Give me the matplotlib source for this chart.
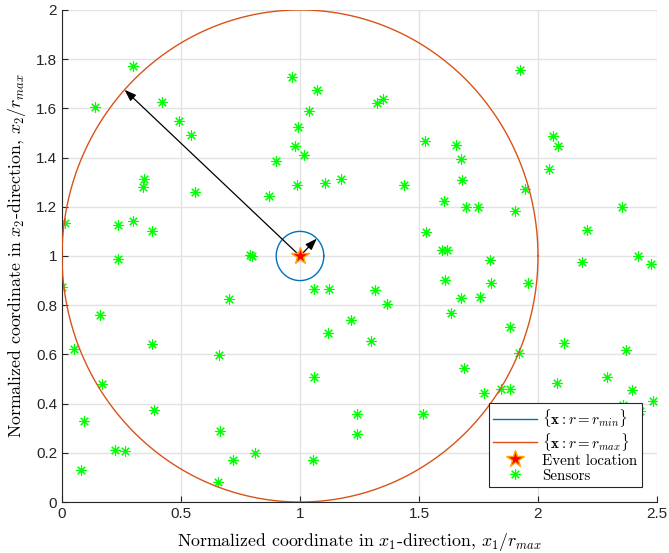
import numpy as np
import matplotlib
matplotlib.use('Agg')
import matplotlib.pyplot as plt

plt.rcParams['mathtext.fontset'] = 'cm'
plt.rcParams['font.family'] = ['Liberation Sans', 'DejaVu Sans']

# event location and the two range circles (normalized by r_max)
event = (1.0, 1.0)
r_min = 0.1
r_max = 1.0

# sensor positions, x1/r_max and x2/r_max
sensor_x = [0.30, 0.139, 0.419, 0.492, 0.542, 0.965, 1.073, 1.039, 0.993, 0.978,
            1.018, 0.898, 0.986, 1.105, 0.871, 0.560, 0.345, 0.342, 0.014, 0.235,
            0.298, 0.377, 0.235, 0.790, 0.800,
            1.926, 1.350, 1.325, 1.527, 1.654, 1.676, 1.681, 2.062, 2.084, 2.048,
            1.174, 1.437, 1.947, 1.607, 1.696, 1.749, 1.905, 2.354, 1.531, 2.206,
            1.595, 1.616, 1.800, 2.186, 2.419, 2.473,
            0.0, 0.161, 0.049, 0.380, 0.170, 0.091, 0.385, 0.081, 0.223, 0.266,
            0.702, 0.660, 0.664, 0.720, 0.812, 0.657, 1.057, 1.122, 1.119, 1.059,
            1.056,
            1.314, 1.366, 1.213, 1.297, 1.238, 1.238, 1.518, 1.611, 1.804, 1.959,
            1.676, 1.758, 1.634, 1.884, 1.920, 1.688, 1.772, 1.845, 1.884, 2.109,
            2.370, 2.078, 2.290, 2.394, 2.482, 2.358, 2.430]
sensor_y = [1.772, 1.604, 1.625, 1.548, 1.490, 1.728, 1.675, 1.588, 1.523, 1.449,
            1.411, 1.386, 1.287, 1.297, 1.245, 1.259, 1.312, 1.279, 1.135, 1.126,
            1.143, 1.103, 0.988, 1.003, 1.000,
            1.756, 1.637, 1.621, 1.469, 1.453, 1.394, 1.308, 1.489, 1.449, 1.352,
            1.312, 1.287, 1.272, 1.222, 1.198, 1.201, 1.182, 1.201, 1.099, 1.107,
            1.024, 1.024, 0.984, 0.974, 1.000, 0.966,
            0.873, 0.761, 0.622, 0.642, 0.478, 0.329, 0.375, 0.129, 0.210, 0.207,
            0.826, 0.598, 0.289, 0.170, 0.199, 0.083, 0.867, 0.864, 0.688, 0.508,
            0.170,
            0.860, 0.803, 0.741, 0.656, 0.358, 0.276, 0.358, 0.901, 0.892, 0.889,
            0.828, 0.833, 0.767, 0.713, 0.606, 0.543, 0.444, 0.458, 0.458, 0.646,
            0.618, 0.484, 0.507, 0.454, 0.412, 0.394, 0.370]

fig = plt.figure(figsize=(6.69, 5.53), dpi=100)
ax = fig.add_axes([0.0927, 0.0922, 0.8893, 0.8898])

t = np.linspace(0, 2*np.pi, 500)
ax.plot(event[0] + r_min*np.cos(t), event[1] + r_min*np.sin(t), color='#0072BD',
        lw=1.0, label=r'$\{\mathbf{x}: r = r_{min}\}$', zorder=3)
ax.plot(event[0] + r_max*np.cos(t), event[1] + r_max*np.sin(t), color='#D95319',
        lw=1.0, label=r'$\{\mathbf{x}: r = r_{max}\}$', zorder=3)

# radius arrows
for r, ang in [(r_max, 137.5), (r_min, 45.0)]:
    a = np.deg2rad(ang)
    ax.annotate('', xy=(event[0] + r*np.cos(a), event[1] + r*np.sin(a)), xytext=event,
                arrowprops=dict(arrowstyle='-|>,head_length=0.7,head_width=0.25',
                                color='k', lw=0.9, shrinkA=0, shrinkB=0), zorder=4)

ax.plot(event[0], event[1], ls='none', marker='*', ms=13, mfc='red', mec='orange',
        mew=1.0, label='Event location', zorder=5)
ax.plot(sensor_x, sensor_y, ls='none', marker=(8, 2, 0), ms=7.5, color='#00FF00',
        mew=0.8, label='Sensors', zorder=2)

ax.set_xlim(0, 2.5)
ax.set_ylim(0, 2)
ax.set_xticks([0, 0.5, 1, 1.5, 2, 2.5])
ax.set_xticklabels(['0', '0.5', '1', '1.5', '2', '2.5'])
ax.set_yticks(np.arange(0, 2.01, 0.2))
ax.set_yticklabels(['0', '0.2', '0.4', '0.6', '0.8', '1', '1.2', '1.4', '1.6', '1.8', '2'])
ax.tick_params(direction='in', labelsize=11, length=4, width=0.8, colors='#262626')
ax.grid(True, color='#e3e3e3', lw=1.0, zorder=0)
ax.set_axisbelow(True)
for s in ['top', 'right']:
    ax.spines[s].set_visible(False)
for s in ['left', 'bottom']:
    ax.spines[s].set_color('#262626')
    ax.spines[s].set_linewidth(0.8)

ax.set_xlabel(r'Normalized coordinate in $x_1$-direction, $x_1/r_{max}$',
              fontsize=12.8, family='cmr10', labelpad=7)
ax.set_ylabel(r'Normalized coordinate in $x_2$-direction, $x_2/r_{max}$',
              fontsize=12.8, family='cmr10', labelpad=6)

leg = ax.legend(loc='lower right', fancybox=False, edgecolor='#262626', framealpha=1,
                handlelength=2.9, handletextpad=0.35, labelspacing=0.08,
                borderaxespad=1.0, borderpad=0.3,
                prop={'family': 'cmr10', 'size': 10.8})
leg.get_frame().set_linewidth(0.8)

fig.savefig('out.png', dpi=100)
